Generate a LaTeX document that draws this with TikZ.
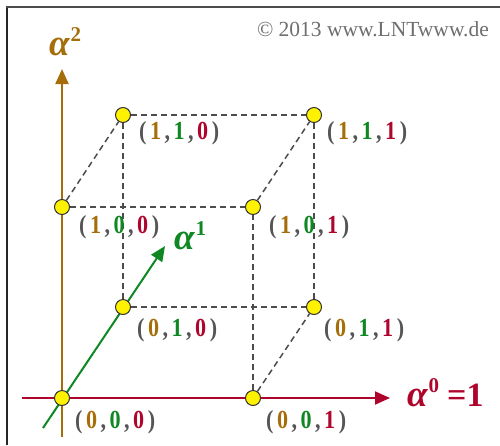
\documentclass[tikz,border=0pt]{standalone}
\usepackage{fontspec}
\setmainfont{Liberation Serif}
\newfontfamily\lblfont[FakeStretch=0.85]{Liberation Serif}
\usetikzlibrary{arrows.meta}
\pgfdeclarelayer{background}
\pgfsetlayers{background,main}
\definecolor{brn}{RGB}{165,110,10}
\definecolor{grn}{RGB}{15,135,35}
\definecolor{rd}{RGB}{175,5,45}
\definecolor{lgray}{RGB}{85,85,85}
\definecolor{cgray}{RGB}{110,110,110}
\newcommand{\tripl}[3]{(\kern3.5pt\textcolor{brn}{#1}\kern3.5pt,\kern3.5pt\textcolor{grn}{#2}\kern3.5pt,\kern3.5pt\textcolor{rd}{#3}\kern3.5pt)}
\newcommand{\alab}[1]{{\fontsize{37}{37}\selectfont\bfseries\itshape α}\kern1pt\raisebox{14pt}{\fontsize{21}{21}\selectfont\bfseries #1}}
\tikzset{
  vert/.style={circle, draw=black!80, fill=yellow, line width=1pt, inner sep=0pt, minimum size=15pt},
  cedge/.style={dash pattern=on 6pt off 4pt, draw=black!70, line width=1.5pt},
  tlabel/.style={font=\lblfont\bfseries\fontsize{26}{26}\selectfont, text=lgray, inner sep=0pt, anchor=base west},
  axlabel/.style={font=\fontsize{34}{34}\selectfont, inner sep=0pt, anchor=base west},
  axis/.style={line width=2pt, -{Triangle[length=15pt,width=13pt]}},
}
\begin{document}
\begin{tikzpicture}[x=1pt,y=-1pt]
\useasboundingbox (0,0) rectangle (500,445);
% frame
\draw[black!85, line width=2pt] (7,445) -- (7,7);
\draw[black!70, line width=1.5pt] (6,7) -- (500,7);
% vertices
\node[vert] (v000) at (62,398) {};
\node[vert] (v001) at (253,398) {};
\node[vert] (v010) at (123,307) {};
\node[vert] (v011) at (314,307) {};
\node[vert] (v100) at (62,207) {};
\node[vert] (v101) at (253,207) {};
\node[vert] (v110) at (123,115) {};
\node[vert] (v111) at (314,115) {};
% axes end points
\coordinate (a2s) at (62,437);
\coordinate (a2e) at (62,69);
\coordinate (a0s) at (22,398);
\coordinate (a0e) at (390,398);
\coordinate (a1s) at (43,428);
\coordinate (a1e) at (165,246);
\begin{pgfonlayer}{background}
\draw[axis, brn] (a2s) -- (a2e);
\draw[axis, rd] (a0s) -- (a0e);
\draw[axis, grn] (a1s) -- (a1e);
\draw[cedge] (v001) -- (v011);
\draw[cedge] (v001) -- (v101);
\draw[cedge] (v010) -- (v011);
\draw[cedge] (v010) -- (v110);
\draw[cedge] (v100) -- (v101);
\draw[cedge] (v100) -- (v110);
\draw[cedge] (v011) -- (v111);
\draw[cedge] (v101) -- (v111);
\draw[cedge] (v110) -- (v111);
\end{pgfonlayer}
% vertex labels
\node[tlabel] (l000) at (75,428) {\tripl{0}{0}{0}};
\node[tlabel] (l001) at (266,428) {\tripl{0}{0}{1}};
\node[tlabel] (l010) at (137,336) {\tripl{0}{1}{0}};
\node[tlabel] (l011) at (324,336) {\tripl{0}{1}{1}};
\node[tlabel] (l100) at (79,233) {\tripl{1}{0}{0}};
\node[tlabel] (l101) at (269,233) {\tripl{1}{0}{1}};
\node[tlabel] (l110) at (139,139) {\tripl{1}{1}{0}};
\node[tlabel] (l111) at (327,139) {\tripl{1}{1}{1}};
% axis labels
\node[axlabel, text=brn] (t2) at (49,55) {\alab{2}};
\node[axlabel, text=grn] (t1) at (174,249) {\alab{1}};
\node[axlabel, text=rd] (t0) at (407,406) {\alab{0}\kern8pt\bfseries =1};
% copyright
\node[font=\fontsize{21.5}{21.5}\selectfont, text=cgray, inner sep=0pt, anchor=base east] (copy) at (489,36) {© 2013 www.LNTwww.de};
\end{tikzpicture}
\end{document}
